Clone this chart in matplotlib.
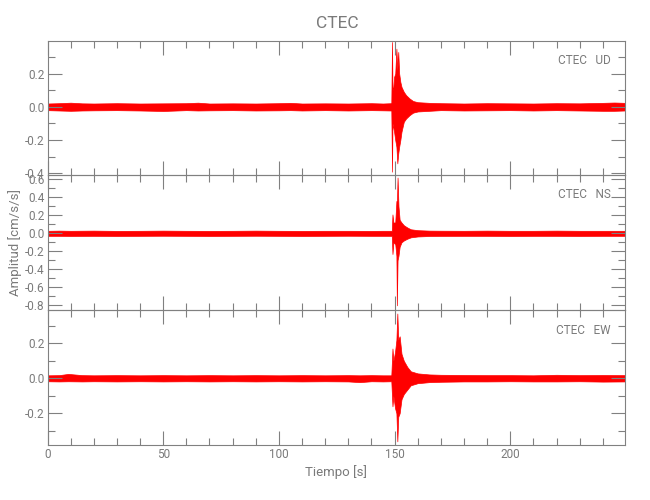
import matplotlib
matplotlib.use("Agg")
import matplotlib.pyplot as plt
from matplotlib import font_manager
from matplotlib.ticker import MultipleLocator, FuncFormatter

# ---------------- data (envelopes) ----------------
station = "CTEC"
components = ["UD", "NS", "EW"]
ylabel = "Amplitud [cm/s/s]"
xlabel = "Tiempo [s]"

# UD component: time knots [s], upper and lower envelope [cm/s/s]
ud_time = [0, 5, 10, 15, 20, 30, 40, 50, 60, 65, 70, 80, 90, 100, 105, 110, 120, 130, 140, 145, 148.6,
           148.9, 149.1, 149.4, 149.8, 150.3, 150.8, 151.2, 151.6, 152.0, 152.5, 153.0, 154.0, 155.0,
           156.5, 158.0, 160.0, 165.0, 170, 180, 190, 200, 210, 220, 230, 240, 245, 249.6]
ud_upper = [0.020, 0.022, 0.025, 0.021, 0.020, 0.022, 0.020, 0.021, 0.022, 0.025, 0.020, 0.021, 0.020,
            0.022, 0.024, 0.020, 0.021, 0.020, 0.022, 0.020, 0.022,
            0.39, 0.12, 0.10, 0.18, 0.20, 0.35, 0.22, 0.33, 0.20, 0.15, 0.12, 0.09, 0.07,
            0.05, 0.035, 0.028, 0.024, 0.022, 0.020, 0.022, 0.021, 0.020, 0.022, 0.021, 0.024, 0.026, 0.024]
ud_lower = [-0.020, -0.022, -0.024, -0.022, -0.021, -0.020, -0.022, -0.025, -0.020, -0.022, -0.021,
            -0.020, -0.022, -0.021, -0.020, -0.022, -0.020, -0.022, -0.020, -0.021, -0.022,
            -0.39, -0.10, -0.12, -0.15, -0.20, -0.24, -0.34, -0.28, -0.24, -0.20, -0.15, -0.09, -0.07,
            -0.05, -0.035, -0.028, -0.024, -0.020, -0.022, -0.021, -0.020, -0.022, -0.020, -0.022,
            -0.024, -0.024, -0.022]

# NS component
ns_time = [0, 5, 10, 20, 30, 40, 50, 60, 70, 80, 90, 100, 110, 120, 130, 140, 145, 148.8,
           149.1, 149.5, 150.3, 150.8, 151.0, 151.3, 151.7, 152.2, 153.0, 154.0, 155.5, 157.0,
           160.0, 165.0, 170, 180, 190, 200, 210, 220, 230, 240, 249.6]
ns_upper = [0.028, 0.030, 0.028, 0.030, 0.027, 0.028, 0.030, 0.028, 0.027, 0.028, 0.030, 0.028,
            0.027, 0.028, 0.028, 0.027, 0.028, 0.028,
            0.21, 0.12, 0.12, 0.36, 0.30, 0.62, 0.30, 0.15, 0.12, 0.09, 0.065, 0.045,
            0.035, 0.030, 0.029, 0.028, 0.030, 0.028, 0.028, 0.030, 0.028, 0.028, 0.028]
ns_lower = [-0.028, -0.028, -0.030, -0.028, -0.030, -0.028, -0.027, -0.028, -0.030, -0.028, -0.027,
            -0.028, -0.030, -0.028, -0.027, -0.028, -0.028, -0.028,
            -0.23, -0.10, -0.12, -0.25, -0.80, -0.30, -0.25, -0.15, -0.10, -0.08, -0.06, -0.045,
            -0.035, -0.030, -0.029, -0.028, -0.028, -0.030, -0.028, -0.028, -0.030, -0.028, -0.028]

# EW component
ew_time = [0, 5, 9, 15, 20, 30, 40, 50, 60, 70, 80, 90, 100, 110, 120, 130, 135, 140, 145, 148.6,
           149.1, 149.5, 150.2, 150.8, 151.2, 151.6, 152.2, 153.0, 154.0, 155.5, 157.0, 160.0, 165.0,
           170, 180, 190, 200, 210, 220, 230, 240, 249.6]
ew_upper = [0.017, 0.018, 0.025, 0.018, 0.017, 0.018, 0.017, 0.018, 0.017, 0.018, 0.017, 0.018,
            0.017, 0.018, 0.017, 0.018, 0.017, 0.018, 0.017, 0.017,
            0.17, 0.10, 0.15, 0.22, 0.37, 0.22, 0.24, 0.14, 0.10, 0.065, 0.04, 0.028, 0.022,
            0.020, 0.019, 0.018, 0.018, 0.017, 0.020, 0.018, 0.019, 0.018]
ew_lower = [-0.017, -0.018, -0.017, -0.018, -0.017, -0.018, -0.017, -0.018, -0.017, -0.018, -0.017,
            -0.018, -0.017, -0.018, -0.017, -0.018, -0.022, -0.017, -0.018, -0.017,
            -0.16, -0.10, -0.17, -0.20, -0.36, -0.22, -0.20, -0.12, -0.09, -0.065, -0.04, -0.028, -0.022,
            -0.020, -0.018, -0.018, -0.017, -0.018, -0.018, -0.017, -0.019, -0.018]

traces = [(ud_time, ud_upper, ud_lower), (ns_time, ns_upper, ns_lower), (ew_time, ew_upper, ew_lower)]
ylims = [(-0.41, 0.396), (-0.852, 0.648), (-0.381, 0.39)]
xlim = (0, 249.6)

# ---------------- styling ----------------
avail = {f.name for f in font_manager.fontManager.ttflist}
fam = ['Roboto'] if 'Roboto' in avail else []
plt.rcParams['font.family'] = fam + ['DejaVu Sans']
plt.rcParams['axes.unicode_minus'] = False

TXT = '#7a7a7a'
AX = '#808080'

W, H = 650, 500
fig = plt.figure(figsize=(W / 100, H / 100), dpi=100)
x0, x1 = 47.5, 625.0
edges = [41, 175, 310, 445]


def fmt(v, p):
    return "0.0" if abs(v) < 1e-9 else f"{v:.1f}"


axes = []
for i in range(3):
    top, bot = edges[i], edges[i + 1]
    ax = fig.add_axes([x0 / W, 1 - bot / H, (x1 - x0) / W, (bot - top) / H])
    t, up, lo = traces[i]
    ax.fill_between(t, lo, up, color='red', edgecolor='red', linewidth=0.5)
    ax.set_xlim(*xlim)
    ax.set_ylim(*ylims[i])
    ax.xaxis.set_major_locator(MultipleLocator(50))
    ax.xaxis.set_minor_locator(MultipleLocator(10))
    ax.yaxis.set_major_locator(MultipleLocator(0.2))
    ax.yaxis.set_minor_locator(MultipleLocator(0.1))
    ax.yaxis.set_major_formatter(FuncFormatter(fmt))
    ax.tick_params(which='both', direction='in', top=True, right=True, color=AX,
                   width=0.8, labelcolor=TXT, labelsize=8.5)
    ax.tick_params(which='major', length=10, pad=2)
    ax.tick_params(which='minor', length=5)
    for s in ax.spines.values():
        s.set_color(AX)
        s.set_linewidth(0.8)
    if i < 2:
        ax.tick_params(labelbottom=False)
    ax.text(0.9757, 1 - 20 / (bot - top), f"{station}   {components[i]}", transform=ax.transAxes,
            ha='right', va='center', color=TXT, fontsize=8.5)
    ax.patch.set_alpha(0)
    axes.append(ax)

axes[2].set_xlabel(xlabel, color=TXT, fontsize=9.5, labelpad=3)
fig.text(15 / W, 1 - 243 / H, ylabel, rotation=90, ha='center', va='center', color=TXT, fontsize=9.5)
fig.text(337 / W, 1 - 23 / H, station, ha='center', va='center', color=TXT, fontsize=12.5)

fig.savefig("out.png", dpi=100)
